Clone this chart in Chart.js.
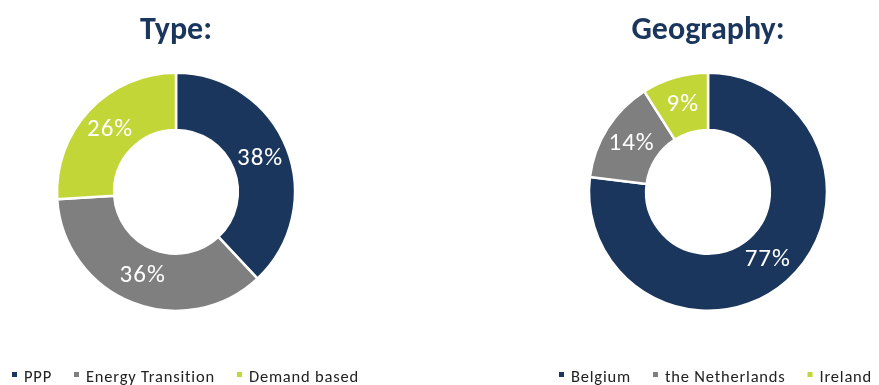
<!DOCTYPE html>
<html>
<head>
<meta charset="utf-8">
<script src="https://cdn.jsdelivr.net/npm/chart.js@4.4.1/dist/chart.umd.min.js"></script>
<style>
  html, body { margin: 0; padding: 0; background: #fff; }
  body { width: 879px; height: 385px; position: relative; overflow: hidden; }
  .box { position: absolute; top: 0; height: 385px; }
</style>
</head>
<body>
<div class="box" style="left:0;width:440px"><canvas id="typeChart"></canvas></div>
<div class="box" style="left:440px;width:439px"><canvas id="geoChart"></canvas></div>
<script>
var typeLabels = ['PPP', 'Energy Transition', 'Demand based'];
var typeValues = [38, 36, 26];
var geoLabels = ['Belgium', 'the Netherlands', 'Ireland'];
var geoValues = [77, 14, 9];
var sliceColors = ['#1B365D', '#7F7F7F', '#C3D637'];

var navy = '#1B365D';
var fontStack = "Carlito, 'Open Sans', sans-serif";

// white percentage labels in the middle of each slice
var sliceLabels = {
	id: 'sliceLabels',
	afterDatasetsDraw: function(chart) {
		var ctx = chart.ctx;
		var meta = chart.getDatasetMeta(0);
		var values = chart.data.datasets[0].data;
		ctx.save();
		ctx.fillStyle = '#fff';
		ctx.font = "25px " + fontStack;
		ctx.letterSpacing = '1px';
		ctx.textAlign = 'center';
		ctx.textBaseline = 'middle';
		meta.data.forEach(function(arc, i) {
			var p = arc.tooltipPosition();
			ctx.fillText(values[i] + '%', p.x, p.y);
		});
		ctx.restore();
	}
};

// small square legend along the bottom edge
var bottomLegend = {
	id: 'bottomLegend',
	afterDraw: function(chart, args, opts) {
		var ctx = chart.ctx;
		var x = opts.x;
		ctx.save();
		ctx.font = "16.5px " + fontStack;
		ctx.letterSpacing = '0.8px';
		ctx.textBaseline = 'alphabetic';
		chart.data.labels.forEach(function(label, i) {
			ctx.fillStyle = chart.data.datasets[0].backgroundColor[i];
			ctx.fillRect(x, opts.y - 10, 5, 5);
			x += 5 + 7;
			ctx.fillStyle = '#222';
			ctx.fillText(label, x, opts.y);
			x += ctx.measureText(label).width + 22;
		});
		ctx.restore();
	}
};

function makeChart(id, title, labels, values, pad, legendX) {
	return new Chart(document.getElementById(id), {
		type: 'doughnut',
		data: {
			labels: labels,
			datasets: [{
				data: values,
				backgroundColor: sliceColors,
				borderColor: '#fff',
				borderWidth: 2.5,
				radius: 119,
				cutout: '52%'
			}]
		},
		options: {
			responsive: true,
			maintainAspectRatio: false,
			animation: false,
			layout: { padding: pad },
			plugins: {
				legend: { display: false },
				tooltip: { enabled: false },
				title: {
					display: true,
					text: title,
					color: navy,
					font: { family: fontStack, size: 32, weight: 'bold', lineHeight: 1.2 },
					padding: { top: 11.6, bottom: 9.6 }
				},
				bottomLegend: { x: legendX, y: 382 }
			}
		},
		plugins: [sliceLabels, bottomLegend]
	});
}

makeChart('typeChart', 'Type:', typeLabels, typeValues, { left: 0, right: 88, top: 0, bottom: 61 }, 12);
makeChart('geoChart', 'Geography:', geoLabels, geoValues, { left: 97, right: 0, top: 0, bottom: 61 }, 119);
</script>
</body>
</html>
